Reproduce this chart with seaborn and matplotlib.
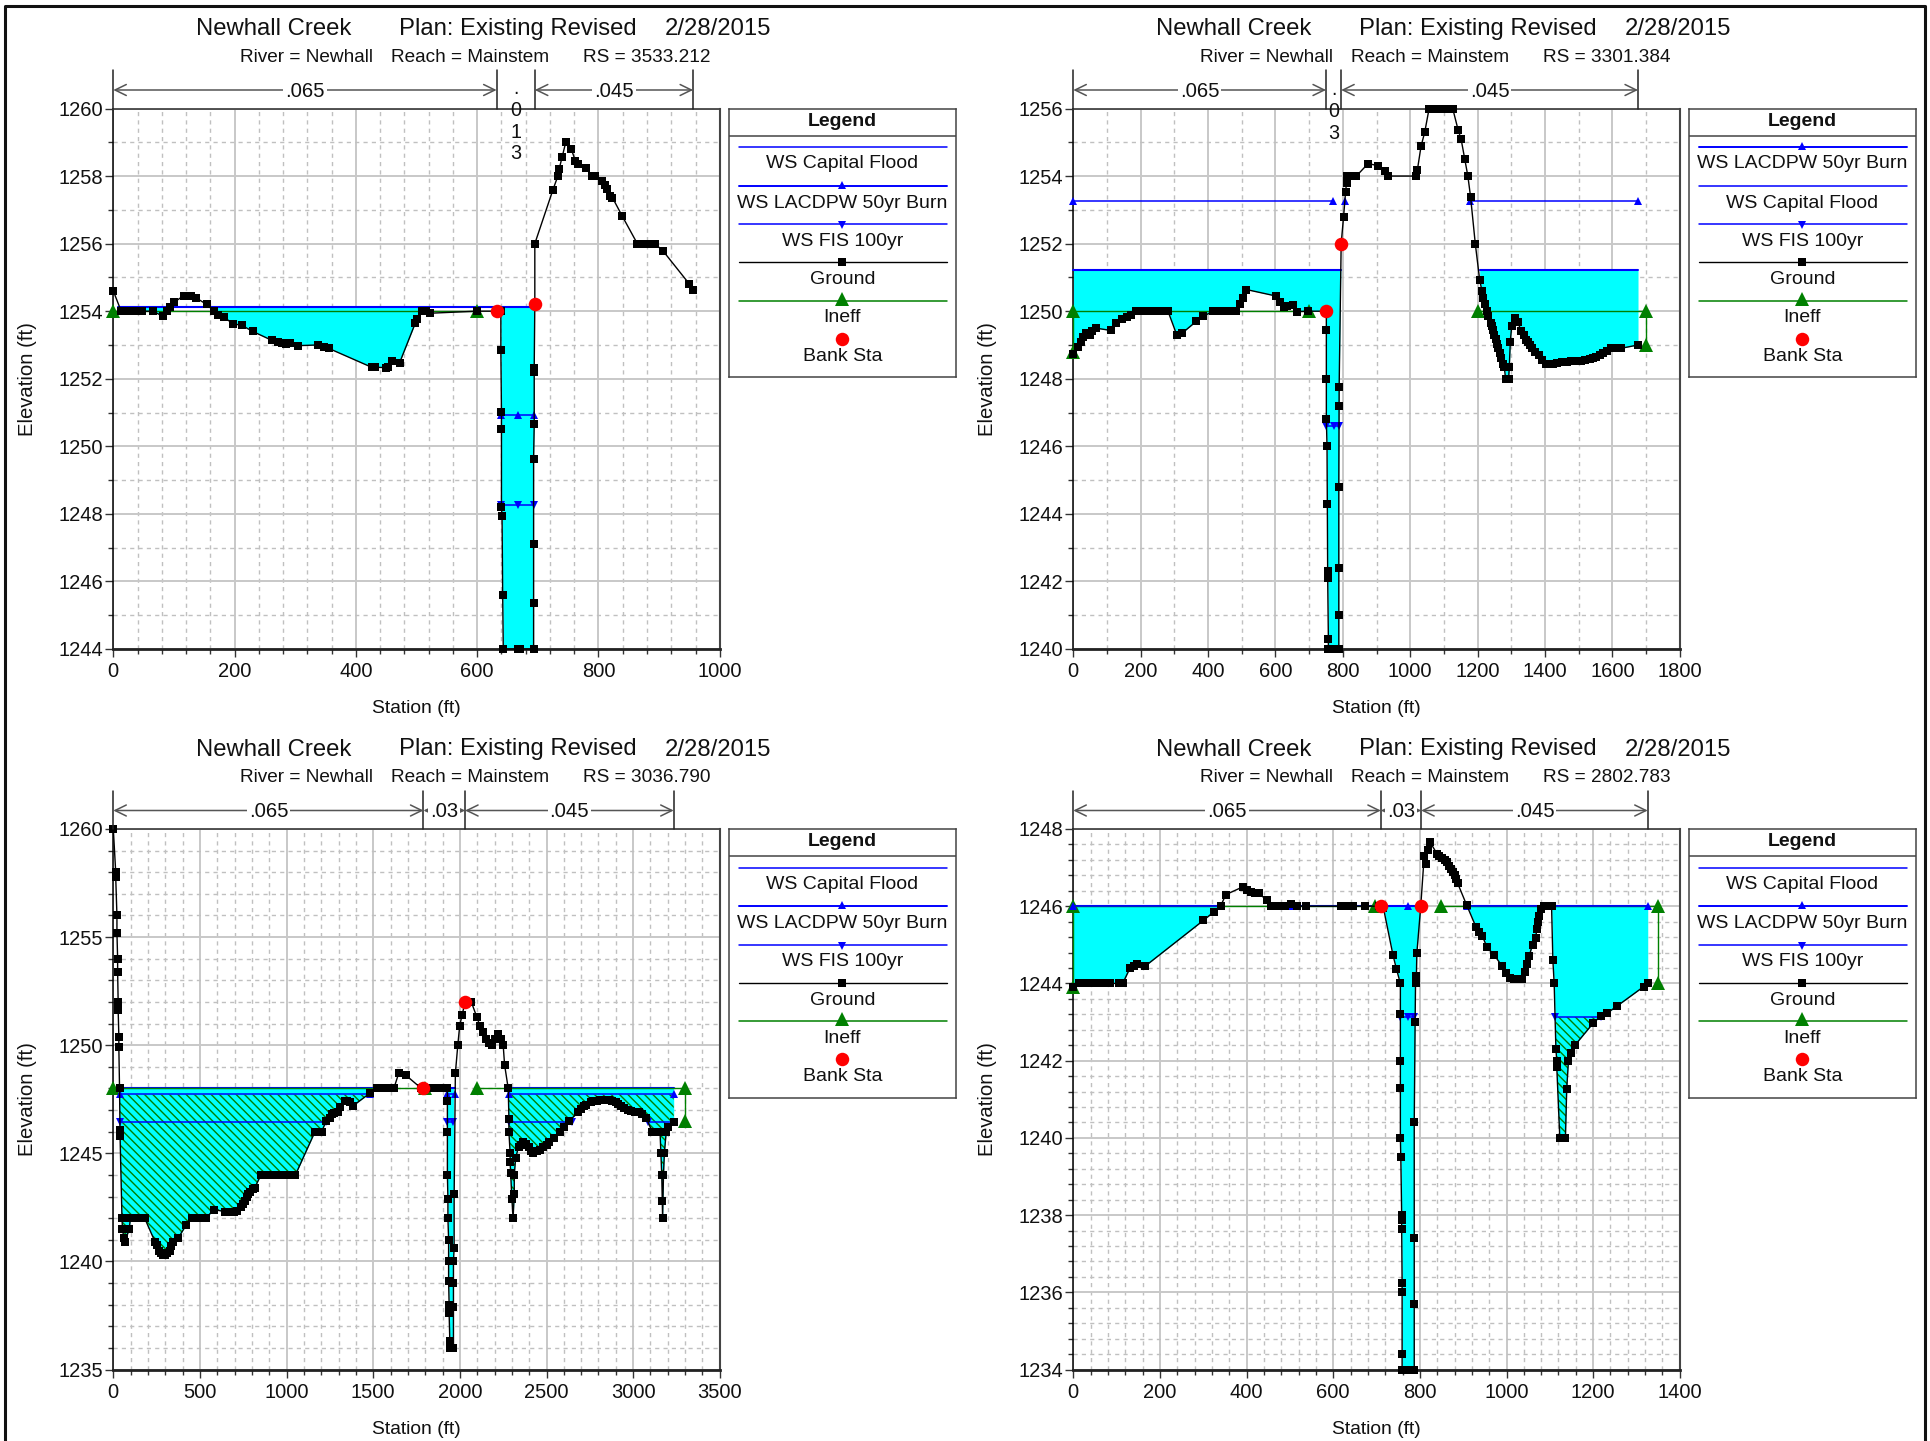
import numpy as np
import pandas as pd
import matplotlib
matplotlib.use("Agg")
import matplotlib.pyplot as plt
from matplotlib.ticker import MultipleLocator
from matplotlib.transforms import blended_transform_factory
import seaborn as sns

W, H = 1931, 1441

# ---------------- Section RS 3533.212 ----------------
rs1 = "3533.212"
st1 = [0,13,21,28,36,47,65,82,89,94,100,116,122,128,136,154,166,173,182,197,212,230,261,272,278,285,292,305,337,348,355,426,431,449,453,460,472,498,501,509,516,523,599,632,639,639,640,640,640,641,642,643,667,670,693,693,693,693,694,694,694,695,695,725,733,735,740,746,755,762,767,780,789,794,806,811,814,819,823,839,864,871,878,886,893,907,950,956]
el1 = [1254.6,1254,1254,1254,1254,1254,1254,1253.85,1254,1254.12,1254.26,1254.46,1254.46,1254.46,1254.4,1254.2,1254,1253.88,1253.83,1253.63,1253.58,1253.4,1253.14,1253.1,1253.07,1253.03,1253.06,1252.98,1253,1252.93,1252.9,1252.34,1252.34,1252.33,1252.34,1252.52,1252.47,1253.65,1253.78,1254,1254,1253.94,1254,1254,1254,1252.86,1251.02,1250.52,1248.2,1247.93,1245.6,1244,1244,1244,1244,1245.35,1247.1,1249.63,1250.65,1252.2,1252.33,1254.2,1256,1257.6,1258,1258.2,1258.56,1259,1258.8,1258.45,1258.37,1258.25,1258,1258,1257.85,1257.75,1257.63,1257.4,1257.36,1256.82,1256,1256,1256,1256,1256,1255.77,1254.8,1254.62]
# ---------------- Section RS 3301.384 ----------------
rs2 = "3301.384"
st2 = [0,13,22,29,37,44,51,55,66,111,128,146,159,170,186,199,215,230,245,255,263,281,307,323,365,386,415,430,446,458,470,484,495,504,514,601,612,625,635,651,665,698,751,751,751,751,753,754,755,755,757,757,775,788,788,788,788,789,789,795,802,808,811,813,826,840,875,903,926,934,1018,1021,1032,1043,1056,1075,1089,1098,1110,1126,1142,1151,1162,1171,1179,1193,1206,1213,1217,1223,1228,1232,1239,1243,1246,1250,1254,1258,1261,1265,1270,1275,1279,1283,1292,1294,1297,1301,1310,1319,1330,1338,1345,1349,1355,1360,1370,1382,1392,1403,1415,1423,1435,1451,1465,1478,1490,1506,1520,1533,1542,1551,1562,1573,1585,1597,1605,1615,1625,1676]
el2 = [1248.73,1248.93,1249.1,1249.24,1249.35,1249.32,1249.3,1249.41,1249.5,1249.43,1249.65,1249.78,1249.82,1249.9,1250,1250,1250,1250,1250.01,1250.01,1250.01,1250,1249.3,1249.35,1249.7,1249.85,1250,1250,1250,1250,1250,1250.01,1250.2,1250.4,1250.64,1250.45,1250.26,1250.12,1250.15,1250.19,1249.99,1250,1250,1249.43,1248,1246.8,1246,1244.3,1242.3,1242.1,1240.3,1240,1240,1240,1241,1242.4,1244.8,1247.2,1247.77,1252,1252.78,1253.52,1253.8,1254,1254,1254,1254.37,1254.31,1254.14,1254,1254,1254.17,1254.88,1255.3,1256,1256,1256,1256,1256,1256,1255.37,1255.09,1254.5,1254,1253.39,1252,1250.93,1250.6,1250.4,1250.2,1250,1249.85,1249.66,1249.55,1249.44,1249.3,1249.17,1249.03,1248.9,1248.75,1248.6,1248.45,1248.35,1248,1248,1248.35,1249.1,1249.55,1249.8,1249.67,1249.4,1249.3,1249.15,1249.1,1249,1248.9,1248.8,1248.7,1248.55,1248.45,1248.44,1248.44,1248.46,1248.5,1248.5,1248.52,1248.53,1248.54,1248.56,1248.58,1248.6,1248.65,1248.7,1248.76,1248.83,1248.9,1248.9,1248.9,1248.9,1249]
# ---------------- Section RS 3036.790 ----------------
rs3 = "3036.790"
st3 = [0,14,14,21,21,25,25,28,28,32,32,36,39,39,50,53,60,67,92,99,120,140,160,181,241,250,263,275,288,300,312,325,334,345,376,422,454,480,510,536,579,646,660,680,696,715,738,750,760,770,777,790,805,816,852,880,920,960,1000,1030,1051,1164,1180,1203,1228,1250,1264,1275,1296,1310,1335,1350,1365,1384,1484,1519,1540,1570,1600,1619,1647,1690,1778,1810,1840,1867,1880,1900,1915,1928,1928,1928,1928,1931,1931,1935,1935,1935,1938,1938,1942,1942,1950,1963,1963,1963,1963,1967,1967,1974,1988,1999,2013,2030,2066,2098,2116,2133,2151,2170,2187,2205,2222,2235,2250,2258,2279,2283,2283,2290,2290,2293,2300,2307,2314,2314,2322,2339,2350,2364,2380,2400,2410,2421,2446,2460,2480,2500,2517,2542,2577,2600,2630,2684,2700,2719,2730,2755,2770,2790,2808,2830,2850,2861,2880,2900,2914,2930,2950,2968,2985,3010,3032,3050,3074,3110,3120,3135,3145,3155,3160,3165,3168,3170,3175,3180,3191,3200,3234]
el3 = [1260,1258,1257.76,1256,1255.2,1254,1253.4,1252,1251.65,1250.4,1249.9,1248,1246.1,1245.8,1242,1241.5,1241.1,1240.9,1241.5,1242,1242,1242,1242,1242,1240.9,1240.75,1240.5,1240.4,1240.3,1240.3,1240.4,1240.5,1240.7,1240.9,1241.1,1241.7,1242,1242,1242,1242,1242.4,1242.3,1242.3,1242.3,1242.3,1242.35,1242.5,1242.65,1242.8,1243,1243.1,1243.2,1243.35,1243.4,1244,1244,1244,1244,1244,1244,1244,1246,1246,1246,1246.5,1246.65,1246.8,1246.85,1246.9,1247.15,1247.4,1247.4,1247.35,1247.2,1247.8,1248,1248,1248,1248,1248,1248.7,1248.6,1248,1248,1248,1248,1248,1248,1248,1248,1247.4,1246,1244,1242.9,1242,1241,1240,1239.1,1238,1237.6,1236.3,1236,1236,1236,1237.9,1239,1240,1240.6,1243.1,1248.7,1250,1250.9,1251.4,1252,1252,1251.3,1250.9,1250.6,1250.3,1250.1,1250,1250.3,1250.5,1250.3,1250,1249.1,1248,1246.6,1246,1245,1244.6,1244.1,1242.9,1242,1243.1,1244,1244.8,1245.3,1245.4,1245.5,1245.45,1245.3,1245.1,1245,1245.1,1245.15,1245.3,1245.4,1245.5,1245.7,1246,1246.2,1246.5,1246.9,1247.05,1247.2,1247.25,1247.35,1247.4,1247.42,1247.45,1247.45,1247.45,1247.45,1247.4,1247.35,1247.3,1247.2,1247.1,1247,1246.95,1246.92,1246.9,1246.8,1246.65,1246,1246,1246,1246,1246,1245,1244,1242.8,1242,1244,1245,1246,1246.2,1246.45]
# ---------------- Section RS 2802.783 ----------------
rs4 = "2802.783"
st4 = [0,14,27,41,55,70,84,105,114,131,139,148,165,300,324,340,352,391,401,411,420,429,446,456,475,489,502,517,537,618,631,645,674,706,716,738,746,755,755,755,755,755,756,758,758,758,759,759,759,759,773,787,787,787,787,789,790,792,793,802,810,814,818,823,840,845,851,857,863,868,873,877,880,884,887,908,930,937,944,955,972,989,998,1008,1018,1027,1036,1043,1048,1052,1060,1067,1070,1073,1076,1079,1086,1095,1104,1107,1110,1114,1116,1116,1123,1136,1139,1143,1150,1158,1200,1217,1232,1256,1317,1326]
el4 = [1243.92,1244,1244,1244,1244,1244,1244,1244,1244,1244.4,1244.46,1244.5,1244.44,1245.63,1245.85,1246,1246.3,1246.5,1246.43,1246.37,1246.35,1246.33,1246.16,1246,1246,1246,1246.05,1246,1246,1246,1246,1246,1246,1246,1245.95,1244.73,1244.37,1244,1243.2,1242,1241.3,1240,1239.5,1238,1237.87,1237.63,1236.25,1236,1234.4,1234,1234,1234,1235.7,1237.4,1240.4,1243,1244,1244.2,1244.78,1246,1247.3,1247.1,1247.45,1247.67,1247.35,1247.3,1247.26,1247.2,1247.14,1247.05,1246.96,1246.88,1246.8,1246.7,1246.6,1246.03,1245.45,1245.33,1245.23,1244.94,1244.73,1244.46,1244.28,1244.14,1244.12,1244.12,1244.12,1244.3,1244.5,1244.7,1245,1245.17,1245.4,1245.6,1245.75,1245.93,1246,1246,1246,1244.6,1244,1242.3,1242,1241.84,1240,1240,1241.27,1242,1242.2,1242.4,1242.97,1243.15,1243.23,1243.42,1243.92,1244]

# water surfaces: (elevation, stations of one drawn segment)
cap1 = [(1254.11, [7, 695])]
lac1 = [(1250.93, [640, 667, 694])]
fis1 = [(1248.27, [640, 667, 694])]
cap2 = [(1251.21, [0, 795]), (1251.21, [1206, 1676])]
lac2 = [(1253.27, [0, 770]), (1253.27, [806]), (1253.27, [1177, 1676])]
fis2 = [(1246.6, [751, 775, 789])]
cap3 = [(1248.0, [36, 1519]), (1248.0, [1928, 1974]), (1248.0, [2279, 3234])]
lac3 = [(1247.72, [39, 1484]), (1247.72, [1928, 1974]), (1247.72, [2283, 3234])]
fis3 = [(1246.45, [39, 1228]), (1246.45, [1928, 1963]), (1246.45, [2283, 2648]), (1246.45, [3085, 3234])]
cap4 = [(1246.0, [0, 340]), (1246.0, [460, 802]), (1246.0, [908, 1326])]
lac4 = [(1246.0, [0, 340]), (1246.0, [460, 502, 517]), (1246.0, [773, 802]), (1246.0, [908, 1326])]
fis4 = [(1243.13, [755, 773, 787]), (1243.13, [1112, 1217])]

# flooded spans: (level, from, to)
fill1 = [(1254.11, 13, 94), (1254.11, 166, 509), (1254.11, 639, 694)]
fill2 = [(1251.21, 0, 795), (1251.21, 1206, 1676)]
fill3 = [(1248.0, 36, 1519), (1248.0, 1928, 1963), (1248.0, 2279, 3234)]
fill4 = [(1246.0, 0, 340), (1246.0, 716, 802), (1246.0, 908, 1086), (1246.0, 1104, 1326)]
hatch1, hatch2 = [], []
hatch3 = [(1247.72, 39, 1484), (1247.72, 2283, 3234)]
hatch4 = [(1243.13, 1112, 1217)]

# ineffective flow limits
ineff1 = [([0, 600], [1254, 1254])]
ineff2 = [([0, 0, 700], [1248.8, 1250, 1250]), ([1200, 1700, 1700], [1250, 1250, 1249])]
ineff3 = [([0, 1796], [1248, 1248]), ([2100, 3300, 3300], [1248, 1248, 1246.5])]
ineff4 = [([0, 0, 696], [1243.9, 1246, 1246]), ([848, 1350, 1350], [1246, 1246, 1244])]

bank1 = ([632, 695], [1254, 1254.2])
bank2 = ([750, 795], [1250, 1252])
bank3 = ([1790, 2030], [1248, 1252])
bank4 = ([710, 803], [1246, 1246])

# Manning's n regions
nsta1 = [0, 632, 695, 956]; nlab1 = [".065", ".\n0\n1\n3", ".045"]
nsta2 = [0, 750, 795, 1676]; nlab2 = [".065", ".\n0\n3", ".045"]
nsta3 = [0, 1790, 2030, 3234]; nlab3 = [".065", ".03", ".045"]
nsta4 = [0, 710, 803, 1326]; nlab4 = [".065", ".03", ".045"]

legend_a = ["WS Capital Flood", "WS LACDPW 50yr Burn", "WS FIS 100yr", "Ground", "Ineff", "Bank Sta"]
legend_b = ["WS LACDPW 50yr Burn", "WS Capital Flood", "WS FIS 100yr", "Ground", "Ineff", "Bank Sta"]

sns.set_theme(style="white")
plt.rcParams["font.family"] = ["Liberation Sans", "DejaVu Sans"]
plt.rcParams["hatch.linewidth"] = 1.0
plt.rcParams["hatch.color"] = "#008000"

fig = plt.figure(figsize=(W / 100, H / 100), dpi=100, facecolor="white")

BLUE = "#0000ff"
GREEN = "#008000"


def px_axes(l, t, r, b):
    return fig.add_axes([l / W, 1 - b / H, (r - l) / W, (b - t) / H])


def ftext(x, y, s, **kw):
    fig.text(x / W, 1 - y / H, s, **kw)


def fill_spans(ax, st, el, spans, hatch=None):
    st = np.asarray(st, float)
    el = np.asarray(el, float)
    for level, a, b in spans:
        m = (st >= a) & (st <= b)
        x, y = st[m], el[m]
        kw = dict(facecolor="#00ffff", linewidth=0, zorder=1.5)
        if hatch:
            kw.update(hatch=hatch, edgecolor=GREEN, zorder=1.6)
        ax.fill_between(x, y, level, where=y < level, interpolate=True, **kw)


def line(ax, x, y, color, lw, marker=None, ms=0, z=3):
    df = pd.DataFrame({"x": x, "y": y})
    kw = dict(marker=marker, markersize=ms, markeredgewidth=0) if marker else {}
    sns.lineplot(data=df, x="x", y="y", ax=ax, color=color, linewidth=lw, estimator=None,
                 sort=False, legend=False, clip_on=False, zorder=z, **kw)


def panel(left, top, rs, st, el, cap, lac, fis, fills, hatches, ineff, bank, nsta, nlab,
          xlim, ylim, xmaj, xmin, ymaj, ymin, legend):
    right, bottom = left + 606.5, top + 540.5
    ax = px_axes(left, top, right, bottom)
    ax.set_facecolor("white")
    ax.set_axisbelow(True)

    fill_spans(ax, st, el, fills)
    if hatches:
        fill_spans(ax, st, el, hatches, hatch="\\\\\\\\")

    for lev, xs in cap:
        line(ax, xs, [lev] * len(xs), BLUE, 1.5, z=3)
    for lev, xs in lac:
        line(ax, xs, [lev] * len(xs), BLUE, 1.1, marker="^", ms=6, z=3.2)
    for lev, xs in fis:
        line(ax, xs, [lev] * len(xs), BLUE, 1.1, marker="v", ms=6, z=3.2)
    for xs, ys in ineff:
        line(ax, xs, ys, GREEN, 1.0, marker="^", ms=10.5, z=3.1)
    line(ax, st, el, "black", 1.0, marker="s", ms=6.4, z=4)
    sns.scatterplot(x=bank[0], y=bank[1], ax=ax, color="#ff0000", s=95, linewidth=0,
                    zorder=5, clip_on=False, legend=False)

    ax.set_xlim(*xlim)
    ax.set_ylim(*ylim)
    ax.xaxis.set_major_locator(MultipleLocator(xmaj))
    ax.xaxis.set_minor_locator(MultipleLocator(xmin))
    ax.yaxis.set_major_locator(MultipleLocator(ymaj))
    ax.yaxis.set_minor_locator(MultipleLocator(ymin))
    ax.grid(True, which="major", color="#c8c8c8", linewidth=1.4, linestyle="-")
    ax.grid(True, which="minor", color="#c0c0c0", linewidth=1.0, linestyle=(0, (3, 3)))
    ax.tick_params(axis="both", which="major", direction="out", length=5.5, width=1,
                   color="#333333", labelsize=14.5, labelcolor="#111111", pad=2,
                   bottom=True, left=True)
    ax.tick_params(axis="x", which="major", pad=4.2)
    ax.tick_params(axis="both", which="minor", direction="out", length=3.6, width=1,
                   color="#333333", bottom=True, left=True)
    ax.set_xlabel("")
    ax.set_ylabel("")
    ax.spines["left"].set(color="black", linewidth=1.1)
    ax.spines["bottom"].set(color="#222222", linewidth=2.0)
    ax.spines["top"].set(color="#444444", linewidth=1.3)
    ax.spines["right"].set(color="#444444", linewidth=1.5)
    for s in ax.spines.values():
        s.set_zorder(2.5)

    # titles
    y1, y2 = top - 79.5, top - 51
    for dx, s in [(82.5, "Newhall Creek"), (285.5, "Plan: Existing Revised"), (551, "2/28/2015")]:
        ftext(left + dx, y1, s, fontsize=17.2, ha="left", va="center", color="#111111")
    for dx, s in [(127, "River = Newhall"), (278, "Reach = Mainstem"), (470, "RS = " + rs)]:
        ftext(left + dx, y2, s, fontsize=13.7, ha="left", va="center", color="#111111")
    ftext((left + right) / 2, bottom + 59.5, "Station (ft)", fontsize=13.9, ha="center",
          va="center", color="#111111")
    ftext(left - 86, (top + bottom) / 2, "Elevation (ft)", fontsize=14.6, ha="center",
          va="center", rotation=90, color="#111111")

    # Manning's n bar
    tr = blended_transform_factory(ax.transData, ax.transAxes)
    hi = 1 + 38.5 / 540.5
    mid = 1 + 18.5 / 540.5
    for s in nsta:
        ax.plot([s, s], [1, hi], transform=tr, color="#222222", lw=1.1, clip_on=False, zorder=6)
    for i, lab in enumerate(nlab):
        a, b = nsta[i], nsta[i + 1]
        c = (a + b) / 2
        if "\n" in lab:
            n = lab.count("\n")
            ax.text(c, 1 + (16.5 - 19.5 * n / 2) / 540.5, lab, transform=tr, ha="center",
                    va="center", fontsize=14.2, linespacing=1.18, color="#111111", zorder=7)
        else:
            ax.annotate("", xy=(b, mid), xytext=(a, mid), xycoords=tr, textcoords=tr,
                        arrowprops=dict(arrowstyle="<->,head_length=0.45,head_width=0.22",
                                        color="#555555", lw=1.1, shrinkA=0, shrinkB=0,
                                        mutation_scale=18), annotation_clip=False, zorder=6)
            ax.text(c, mid - 1.2 / 540.5, lab, transform=tr, ha="center", va="center",
                    fontsize=14.6, color="#111111", zorder=7,
                    bbox=dict(facecolor="white", edgecolor="none", pad=1.5))

    # legend box
    lx0 = right + 9.3
    lg = px_axes(lx0, top, lx0 + 226.7, top + 268.5)
    lg.set_xlim(0, 226.7)
    lg.set_ylim(268.5, 0)
    lg.set_xticks([])
    lg.set_yticks([])
    for s in lg.spines.values():
        s.set(color="#444444", linewidth=1.1)
    lg.set_facecolor("white")
    cx = 226.7 / 2
    lg.text(cx, 12.8, "Legend", ha="center", va="center", fontsize=14, fontweight="bold",
            color="#111111")
    lg.plot([0, 226.7], [27, 27], color="#444444", lw=1.1)
    ys_line = [38.8, 77.2, 115.5, 153.8, 192.1, 230.4]
    ys_text = [55.5, 94.8, 132.8, 171.5, 209.5, 247.8]
    for name, yl, yt in zip(legend, ys_line, ys_text):
        if name == "WS Capital Flood":
            lg.plot([9.7, 217.7], [yl, yl], color=BLUE, lw=1.1)
        elif name == "WS LACDPW 50yr Burn":
            lg.plot([9.7, 217.7], [yl, yl], color=BLUE, lw=1.4)
            lg.plot([cx], [yl - 1], "^", color=BLUE, ms=6, mew=0)
        elif name == "WS FIS 100yr":
            lg.plot([9.7, 217.7], [yl, yl], color=BLUE, lw=1.1)
            lg.plot([cx], [yl + 1], "v", color=BLUE, ms=6, mew=0)
        elif name == "Ground":
            lg.plot([9.7, 217.7], [yl, yl], color="black", lw=1.0)
            lg.plot([cx], [yl], "s", color="black", ms=5.8, mew=0)
        elif name == "Ineff":
            lg.plot([9.7, 217.7], [yl, yl], color=GREEN, lw=1.1)
            lg.plot([cx], [yl - 2], "^", color=GREEN, ms=10.5, mew=0)
        else:
            lg.plot([cx], [yl], "o", color="#ff0000", ms=9.7, mew=0)
        lg.text(cx, yt, name, ha="center", va="center", fontsize=14.0, color="#111111")
    return ax


panel(113.3, 108.5, rs1, st1, el1, cap1, lac1, fis1, fill1, hatch1, ineff1, bank1, nsta1, nlab1,
      (0, 1000), (1244, 1260), 200, 40, 2, 1, legend_a)
panel(1073.3, 108.5, rs2, st2, el2, cap2, lac2, fis2, fill2, hatch2, ineff2, bank2, nsta2, nlab2,
      (0, 1800), (1240, 1256), 200, 100, 2, 1, legend_b)
panel(113.3, 829, rs3, st3, el3, cap3, lac3, fis3, fill3, hatch3, ineff3, bank3, nsta3, nlab3,
      (0, 3500), (1235, 1260), 500, 100, 5, 1, legend_a)
panel(1073.3, 829, rs4, st4, el4, cap4, lac4, fis4, fill4, hatch4, ineff4, bank4, nsta4, nlab4,
      (0, 1400), (1234, 1248), 200, 40, 2, 0.4, legend_a)

# outer frame
frame = fig.add_axes([0, 0, 1, 1], facecolor="none", zorder=-1)
frame.set_xlim(0, W)
frame.set_ylim(H, 0)
frame.axis("off")
frame.plot([5.5, 5.5, 1925, 1925], [H, 5.5, 5.5, H], color="#111111", lw=2.2)

fig.savefig("out.png", dpi=100, facecolor="white")
